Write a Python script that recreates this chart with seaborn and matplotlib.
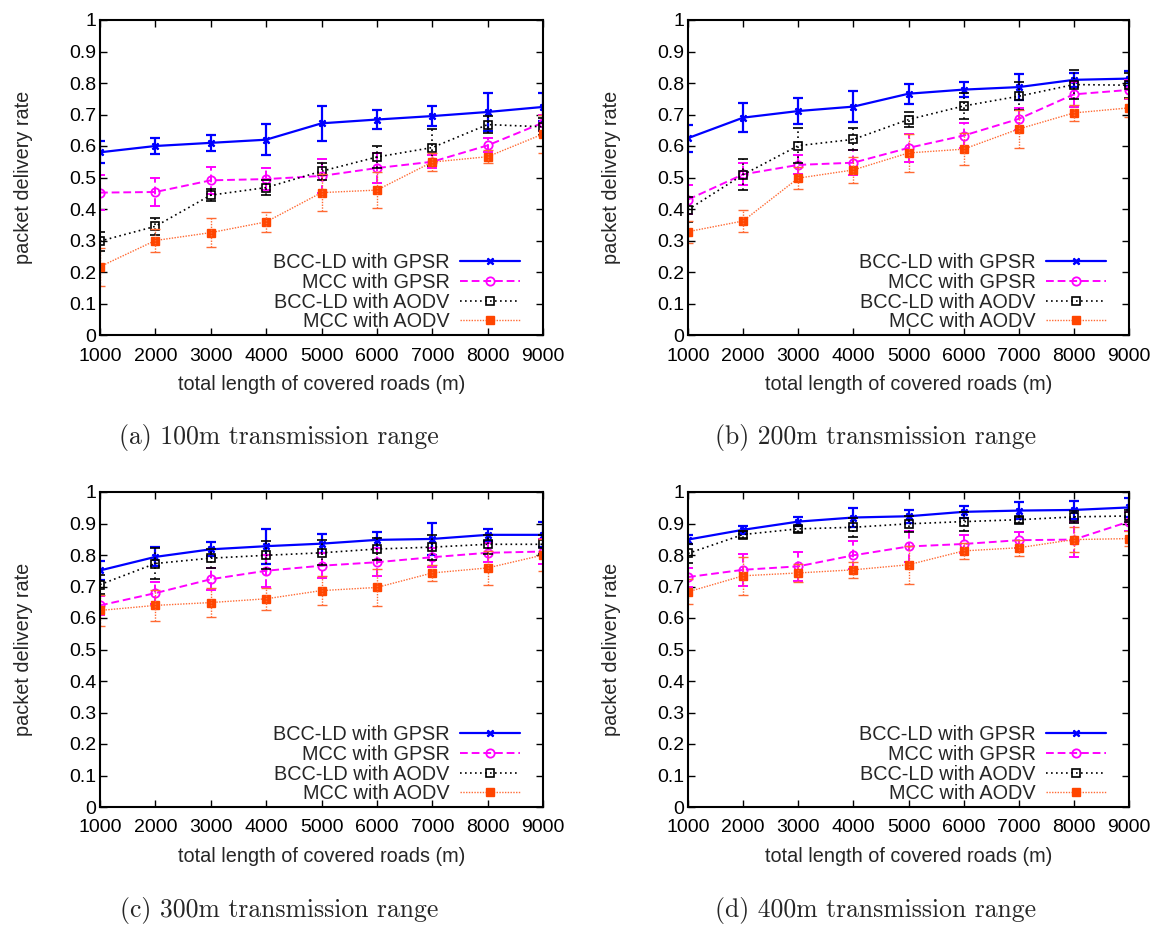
import matplotlib
matplotlib.use("Agg")
import matplotlib.pyplot as plt
import seaborn as sns
from matplotlib.ticker import FuncFormatter, MultipleLocator

road_length = [1000, 2000, 3000, 4000, 5000, 6000, 7000, 8000, 9000]
series_names = ["BCC-LD with GPSR", "MCC with GPSR", "BCC-LD with AODV", "MCC with AODV"]
captions = ["(a) 100m transmission range", "(b) 200m transmission range",
            "(c) 300m transmission range", "(d) 400m transmission range"]

# (a) 100m
bcc_gpsr_100 = [0.580, 0.600, 0.610, 0.620, 0.672, 0.684, 0.695, 0.708, 0.724]
bcc_gpsr_100_err = [0.035, 0.026, 0.025, 0.050, 0.056, 0.030, 0.033, 0.060, 0.045]
mcc_gpsr_100 = [0.452, 0.454, 0.491, 0.495, 0.505, 0.530, 0.550, 0.602, 0.674]
mcc_gpsr_100_err = [0.055, 0.045, 0.042, 0.035, 0.055, 0.048, 0.020, 0.022, 0.025]
bcc_aodv_100 = [0.298, 0.345, 0.444, 0.468, 0.520, 0.565, 0.595, 0.668, 0.661]
bcc_aodv_100_err = [0.030, 0.028, 0.020, 0.025, 0.027, 0.035, 0.058, 0.027, 0.027]
mcc_aodv_100 = [0.217, 0.300, 0.325, 0.359, 0.452, 0.460, 0.549, 0.566, 0.638]
mcc_aodv_100_err = [0.060, 0.035, 0.046, 0.032, 0.058, 0.058, 0.028, 0.020, 0.060]

# (b) 200m
bcc_gpsr_200 = [0.625, 0.690, 0.711, 0.725, 0.766, 0.779, 0.787, 0.810, 0.814]
bcc_gpsr_200_err = [0.043, 0.045, 0.040, 0.050, 0.032, 0.023, 0.040, 0.023, 0.025]
mcc_gpsr_200 = [0.430, 0.510, 0.540, 0.547, 0.594, 0.633, 0.686, 0.764, 0.778]
mcc_gpsr_200_err = [0.045, 0.035, 0.030, 0.040, 0.045, 0.040, 0.035, 0.040, 0.030]
bcc_aodv_200 = [0.398, 0.509, 0.601, 0.621, 0.684, 0.727, 0.758, 0.795, 0.793]
bcc_aodv_200_err = [0.040, 0.050, 0.055, 0.035, 0.025, 0.040, 0.045, 0.045, 0.040]
mcc_aodv_200 = [0.328, 0.362, 0.498, 0.524, 0.578, 0.590, 0.654, 0.705, 0.721]
mcc_aodv_200_err = [0.035, 0.035, 0.035, 0.040, 0.060, 0.050, 0.060, 0.025, 0.030]

# (c) 300m
bcc_gpsr_300 = [0.751, 0.794, 0.818, 0.828, 0.836, 0.848, 0.851, 0.864, 0.864]
bcc_gpsr_300_err = [0.030, 0.030, 0.022, 0.055, 0.030, 0.025, 0.050, 0.020, 0.040]
mcc_gpsr_300 = [0.640, 0.679, 0.723, 0.750, 0.766, 0.777, 0.793, 0.807, 0.811]
mcc_gpsr_300_err = [0.030, 0.035, 0.035, 0.050, 0.040, 0.045, 0.030, 0.030, 0.040]
bcc_aodv_300 = [0.706, 0.773, 0.790, 0.799, 0.807, 0.819, 0.825, 0.834, 0.834]
bcc_aodv_300_err = [0.030, 0.050, 0.030, 0.045, 0.040, 0.035, 0.040, 0.030, 0.030]
mcc_aodv_300 = [0.624, 0.640, 0.649, 0.661, 0.687, 0.697, 0.743, 0.759, 0.800]
mcc_aodv_300_err = [0.050, 0.050, 0.045, 0.035, 0.045, 0.060, 0.025, 0.055, 0.050]

# (d) 400m
bcc_gpsr_400 = [0.849, 0.880, 0.906, 0.919, 0.923, 0.937, 0.941, 0.943, 0.951]
bcc_gpsr_400_err = [0.015, 0.012, 0.015, 0.030, 0.020, 0.018, 0.028, 0.030, 0.030]
mcc_gpsr_400 = [0.730, 0.753, 0.764, 0.799, 0.827, 0.835, 0.847, 0.849, 0.906]
mcc_gpsr_400_err = [0.030, 0.050, 0.045, 0.045, 0.050, 0.030, 0.025, 0.055, 0.030]
bcc_aodv_400 = [0.805, 0.865, 0.883, 0.888, 0.899, 0.906, 0.912, 0.921, 0.924]
bcc_aodv_400_err = [0.030, 0.010, 0.010, 0.030, 0.025, 0.030, 0.010, 0.020, 0.020]
mcc_aodv_400 = [0.683, 0.734, 0.743, 0.753, 0.769, 0.813, 0.823, 0.849, 0.852]
mcc_aodv_400_err = [0.040, 0.060, 0.030, 0.025, 0.060, 0.025, 0.025, 0.040, 0.025]

panels = [
    [(bcc_gpsr_100, bcc_gpsr_100_err), (mcc_gpsr_100, mcc_gpsr_100_err),
     (bcc_aodv_100, bcc_aodv_100_err), (mcc_aodv_100, mcc_aodv_100_err)],
    [(bcc_gpsr_200, bcc_gpsr_200_err), (mcc_gpsr_200, mcc_gpsr_200_err),
     (bcc_aodv_200, bcc_aodv_200_err), (mcc_aodv_200, mcc_aodv_200_err)],
    [(bcc_gpsr_300, bcc_gpsr_300_err), (mcc_gpsr_300, mcc_gpsr_300_err),
     (bcc_aodv_300, bcc_aodv_300_err), (mcc_aodv_300, mcc_aodv_300_err)],
    [(bcc_gpsr_400, bcc_gpsr_400_err), (mcc_gpsr_400, mcc_gpsr_400_err),
     (bcc_aodv_400, bcc_aodv_400_err), (mcc_aodv_400, mcc_aodv_400_err)],
]

# gnuplot-like line styles, one per series
styles = [
    dict(color="#0000ff", ls="-", lw=1.6, marker=(4, 2, 45), ms=6, mfc="#0000ff", mec="#0000ff", mew=1.6),
    dict(color="#ff00ff", ls=(0, (4, 2)), lw=1.4, marker="o", ms=6, mfc="none", mec="#ff00ff", mew=1.3),
    dict(color="#000000", ls=(0, (1, 2)), lw=1.2, marker="s", ms=5.5, mfc="none", mec="#000000", mew=1.2),
    dict(color="#ff6a33", ls=(0, (1, 1)), lw=1.0, marker="s", ms=6, mfc="#ff4500", mec="#ff4500", mew=1.0),
]

sns.set_style("ticks")
plt.rcParams["font.family"] = ["Liberation Sans", "DejaVu Sans"]
plt.rcParams["xtick.direction"] = "in"
plt.rcParams["ytick.direction"] = "in"

FS = 14.3
fig = plt.figure(figsize=(11.56, 9.25), dpi=100)
W, H = 1156, 925
boxes = [(100, 20, 443, 315), (688, 20, 441, 315), (100, 492, 443, 315), (688, 492, 441, 315)]
caption_pos = [(279, 437), (876, 437), (279, 910), (876, 910)]

for i, (box, data) in enumerate(zip(boxes, panels)):
    left, top, w, h = box
    ax = fig.add_axes([left / W, 1 - (top + h) / H, w / W, h / H])
    for name, (vals, errs), st in zip(series_names, data, styles):
        sns.lineplot(x=road_length, y=vals, ax=ax, errorbar=None, color=st["color"],
                     linestyle=st["ls"], linewidth=st["lw"], marker=st["marker"],
                     markersize=st["ms"], markerfacecolor=st["mfc"],
                     markeredgecolor=st["mec"], markeredgewidth=st["mew"], label=name)
        eb = ax.errorbar(road_length, vals, yerr=errs, fmt="none", ecolor=st["color"],
                         elinewidth=st["lw"], capsize=3.5, capthick=st["lw"])
        eb[2][0].set_linestyle(st["ls"])
    ax.set_xlim(1000, 9000)
    ax.set_ylim(0, 1)
    ax.xaxis.set_major_locator(MultipleLocator(1000))
    ax.yaxis.set_major_locator(MultipleLocator(0.1))
    ax.yaxis.set_major_formatter(FuncFormatter(lambda v, p: "%g" % round(v, 1)))
    ax.tick_params(axis="both", which="major", labelsize=FS - 0.3, length=5, width=1,
                   top=True, right=True, colors="black")
    ax.tick_params(axis="x", pad=9)
    ax.tick_params(axis="y", pad=2.5)
    for sp in ax.spines.values():
        sp.set_linewidth(1.5)
        sp.set_color("black")
    ax.set_xlabel("total length of covered roads (m)", fontsize=FS)
    ax.set_ylabel("packet delivery rate", fontsize=FS)
    ax.xaxis.set_label_coords(0.5, -0.128)
    ax.yaxis.set_label_coords(-0.152, 0.5)
    ax.legend(loc="lower right", bbox_to_anchor=(0.948, 0.012), frameon=False,
              markerfirst=False, fontsize=FS, handlelength=3.0, labelspacing=0.03,
              handletextpad=0.55, borderaxespad=0.0, borderpad=0.0)
    cx, cy = caption_pos[i]
    fig.text(cx / W, 1 - cy / H, captions[i], ha="center", va="center",
             fontfamily="cmr10", fontsize=18.5)

fig.savefig("out.png", dpi=100)
